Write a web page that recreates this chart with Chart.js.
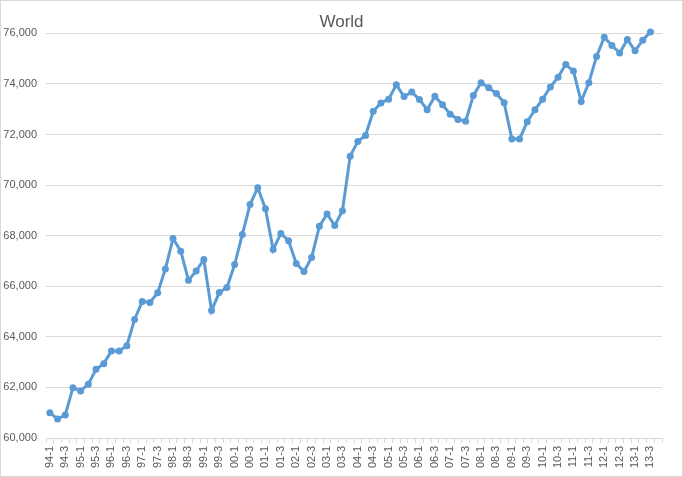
<!DOCTYPE html>
<html>
<head>
<meta charset="utf-8">
<script src="https://cdn.jsdelivr.net/npm/chart.js@4.4.1/dist/chart.umd.min.js"></script>
<style>
  html, body { margin: 0; padding: 0; background: #fff; }
  #wrap { width: 683px; height: 477px; position: relative; }
</style>
</head>
<body>
<div id="wrap"><canvas id="worldChart"></canvas></div>
<script>
// Quarters, 94-1 .. 13-4
const quarters = [
  "94-1","94-2","94-3","94-4","95-1","95-2","95-3","95-4",
  "96-1","96-2","96-3","96-4","97-1","97-2","97-3","97-4",
  "98-1","98-2","98-3","98-4","99-1","99-2","99-3","99-4",
  "00-1","00-2","00-3","00-4","01-1","01-2","01-3","01-4",
  "02-1","02-2","02-3","02-4","03-1","03-2","03-3","03-4",
  "04-1","04-2","04-3","04-4","05-1","05-2","05-3","05-4",
  "06-1","06-2","06-3","06-4","07-1","07-2","07-3","07-4",
  "08-1","08-2","08-3","08-4","09-1","09-2","09-3","09-4",
  "10-1","10-2","10-3","10-4","11-1","11-2","11-3","11-4",
  "12-1","12-2","12-3","12-4","13-1","13-2","13-3","13-4",
];

// World values (last quarter has no data yet)
const worldValues = [
  61000, 60750, 60910, 61990, 61860, 62130, 62720, 62940,
  63440, 63440, 63650, 64690, 65400, 65360, 65740, 66680,
  67890, 67390, 66240, 66600, 67060, 65040, 65750, 65950,
  66860, 68050, 69230, 69900, 69070, 67450, 68090, 67800,
  66900, 66580, 67140, 68370, 68860, 68400, 68990, 71140,
  71730, 71960, 72920, 73250, 73400, 73970, 73500, 73680,
  73390, 72980, 73510, 73180, 72800, 72600, 72530, 73540,
  74050, 73850, 73620, 73260, 71820, 71820, 72510, 72980,
  73400, 73880, 74270, 74770, 74510, 73310, 74050, 75090,
  75850, 75520, 75220, 75760, 75310, 75730, 76060, null,
];

const yTicks = [60000, 62000, 64000, 66000, 68000, 70000, 72000, 74000, 76000];

const lineBlue = "#5b9bd5";
const gridGray = "#d9d9d9";
const textGray = "#595959";

// light frame round the whole chart, like the Excel chart area
const frame = {
  id: "frame",
  afterDraw(chart) {
    const c = chart.ctx;
    c.save();
    c.strokeStyle = gridGray;
    c.lineWidth = 1;
    c.strokeRect(0.5, 0.5, chart.width - 1, chart.height - 1);
    c.restore();
  },
};

const ctx = document.getElementById("worldChart").getContext("2d");

new Chart(ctx, {
  type: "line",
  data: {
    labels: quarters,
    datasets: [
      {
        label: "World",
        data: worldValues,
        borderColor: lineBlue,
        backgroundColor: lineBlue,
        borderWidth: 3,
        pointRadius: 3.5,
        pointBorderWidth: 0,
        pointBackgroundColor: lineBlue,
        tension: 0,
        fill: false,
        clip: false, // last point sits just above the 76,000 line
      },
    ],
  },
  options: {
    responsive: true,
    maintainAspectRatio: false,
    animation: false,
    layout: {
      padding: 0,
    },
    scales: {
      x: {
        offset: true,
        grid: {
          offset: true,
          drawOnChartArea: false,
          drawTicks: true,
          tickLength: 5,
          color: gridGray,
        },
        border: { display: true, color: gridGray },
        ticks: {
          autoSkip: false,
          minRotation: 90,
          maxRotation: 90,
          padding: 3,
          color: textGray,
          font: { family: "Liberation Sans", size: 11 },
          callback: function (value, index) {
            return index % 2 === 0 ? quarters[index] : "";
          },
        },
        afterFit: (scale) => {
          scale.height = 39;
        },
      },
      y: {
        min: yTicks[0],
        max: yTicks[yTicks.length - 1],
        afterBuildTicks: (scale) => {
          scale.ticks = yTicks.map((v) => ({ value: v }));
        },
        grid: {
          color: gridGray,
          drawTicks: false,
        },
        border: { display: false },
        ticks: {
          padding: 9,
          color: textGray,
          font: { family: "Liberation Sans", size: 11 },
          callback: (v) => v.toLocaleString("en-US"),
        },
        afterFit: (scale) => {
          scale.width = 46;
        },
      },
      // empty right-hand axis, only keeps the right margin so the title stays centred on the canvas
      yRight: {
        position: "right",
        min: yTicks[0],
        max: yTicks[yTicks.length - 1],
        grid: { drawOnChartArea: false, drawTicks: false },
        border: { display: false },
        ticks: { display: false },
        afterFit: (scale) => {
          scale.width = 21;
        },
      },
    },
    plugins: {
      legend: { display: false },
      tooltip: { enabled: false },
      title: {
        display: true,
        text: "World",
        color: textGray,
        font: { family: "Liberation Sans", size: 17, weight: "normal" },
        padding: { top: 12, bottom: 1 },
      },
    },
  },
  plugins: [frame],
});
</script>
</body>
</html>
